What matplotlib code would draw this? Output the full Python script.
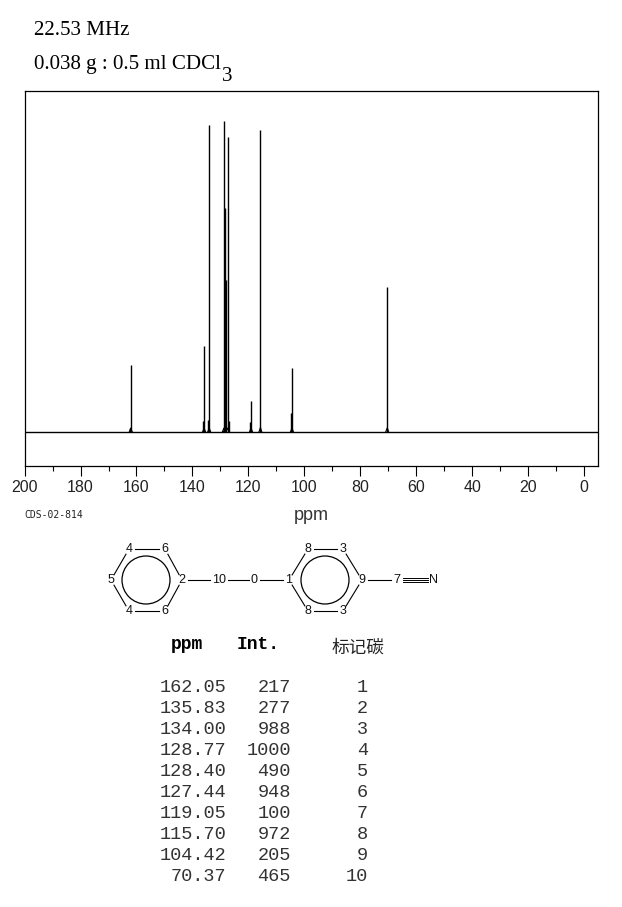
import matplotlib
matplotlib.use("Agg")
import matplotlib.pyplot as plt
from matplotlib.patches import Circle

# peak table
ppm = [162.05, 135.83, 134.00, 128.77, 128.40, 127.44, 119.05, 115.70, 104.42, 70.37]
intensity = [217, 277, 988, 1000, 490, 948, 100, 972, 205, 465]
carbon = [1, 2, 3, 4, 5, 6, 7, 8, 9, 10]
ppm_text = ["162.05", "135.83", "134.00", "128.77", "128.40", "127.44", "119.05", "115.70", "104.42", "70.37"]

# lines on the spectrum that the table does not list
extra_ppm = [136.1, 134.35, 128.45, 128.15, 127.05, 119.3, 115.95, 104.6, 162.25, 70.6]
extra_int = [35, 40, 720, 490, 35, 32, 15, 61, 14, 14]

# foot of a peak, half width in ppm and height in intensity units
foot_w = 0.55
foot_h = 13

# structure drawing
atoms = {
    "a": ("4", 129, 549), "b": ("6", 165, 549), "c": ("5", 111, 580), "d": ("2", 182, 580),
    "e": ("4", 129, 611), "f": ("6", 165, 611), "g": ("10", 219, 580), "h": ("0", 254, 580),
    "i": ("1", 289, 580), "j": ("8", 308, 549), "k": ("3", 343, 549), "l": ("9", 362, 580),
    "m": ("8", 308, 611), "n": ("3", 343, 611), "o": ("7", 397, 580), "p": ("N", 433, 580),
}
bonds = [("a", "b"), ("b", "d"), ("d", "f"), ("e", "f"), ("c", "e"), ("a", "c"),
         ("j", "k"), ("k", "l"), ("l", "n"), ("m", "n"), ("i", "m"), ("i", "j"),
         ("h", "i"), ("l", "o")]
rings = [(146, 580), (325, 580)]

plt.rcParams["font.family"] = ["Liberation Sans", "DejaVu Sans"]

W, H = 622, 907
fig = plt.figure(figsize=(W / 100, H / 100), dpi=100)

# spectrum
ax = fig.add_axes([24.6 / W, 1 - 466 / H, (598 - 24.6) / W, (466 - 91) / H])
ax.vlines(ppm, 0, intensity, color="black", lw=1.0)
ax.vlines(extra_ppm, 0, extra_int, color="black", lw=1.0)
ax.axhline(0, color="black", lw=1.0)
for p in ppm:
    ax.plot([p + foot_w, p, p - foot_w], [0, foot_h, 0], color="black", lw=0.8)
ax.set_xlim(200, -5)
ax.set_ylim(-109, 1096)
ax.set_xticks(range(0, 201, 20))
ax.set_xticks(range(0, 201, 10), minor=True)
ax.set_yticks([])
ax.tick_params(axis="x", which="major", length=7.2, width=0.8, labelsize=11.5, pad=3, labelcolor="#222222")
ax.tick_params(axis="x", which="minor", length=3.6, width=0.8)
for s in ax.spines.values():
    s.set_linewidth(0.9)

# everything else, in pixel coordinates
ov = fig.add_axes([0, 0, 1, 1])
ov.set_xlim(0, W)
ov.set_ylim(H, 0)
ov.axis("off")

ov.text(34, 35, "22.53 MHz", family="Liberation Serif", fontsize=15.1)
ov.text(34, 69, "0.038 g : 0.5 ml CDCl", family="Liberation Serif", fontsize=15.1)
ov.text(222, 81, "3", family="Liberation Serif", fontsize=15.1)
ov.text(24, 518, "CDS-02-814", family="DejaVu Sans Mono", fontsize=7, color="#222222")
ov.text(311, 520, "ppm", ha="center", fontsize=13, color="#333333")

for a, b in bonds:
    x0, y0 = atoms[a][1:]
    x1, y1 = atoms[b][1:]
    d = ((x1 - x0) ** 2 + (y1 - y0) ** 2) ** 0.5
    ux, uy = (x1 - x0) / d * 6, (y1 - y0) / d * 6
    ov.plot([x0 + ux, x1 - ux], [y0 + uy, y1 - uy], color="black", lw=0.8)
# bonds next to the two digit label
ov.plot([188, 210], [580, 580], color="black", lw=0.8)
ov.plot([228, 249], [580, 580], color="black", lw=0.8)
for dy in (-2, 0, 2):
    ov.plot([403, 428], [580 + dy, 580 + dy], color="black", lw=0.7)
for cx, cy in rings:
    ov.add_patch(Circle((cx, cy), 24, fill=False, ec="black", lw=0.9))
for label, x, y in atoms.values():
    ov.text(x, y, label, ha="center", va="center", fontsize=9, color="#111111")

# table
ov.text(187, 649, "ppm", ha="center", family="Liberation Mono", weight="bold", fontsize=13)
ov.text(258, 649, "Int.", ha="center", family="Liberation Mono", weight="bold", fontsize=13)
ov.text(358, 653, "标记碳", ha="center", family=["Noto Sans CJK SC", "DejaVu Sans"], fontsize=12.7, color="#222222")
for i in range(len(ppm)):
    y = 692 + i * 21
    ov.text(226, y, ppm_text[i], ha="right", family="Liberation Mono", fontsize=13.4, color="#333333")
    ov.text(291, y, str(intensity[i]), ha="right", family="Liberation Mono", fontsize=13.4, color="#333333")
    ov.text(368, y, str(carbon[i]), ha="right", family="Liberation Mono", fontsize=13.4, color="#333333")

fig.savefig("out.png", dpi=100, facecolor="white")
